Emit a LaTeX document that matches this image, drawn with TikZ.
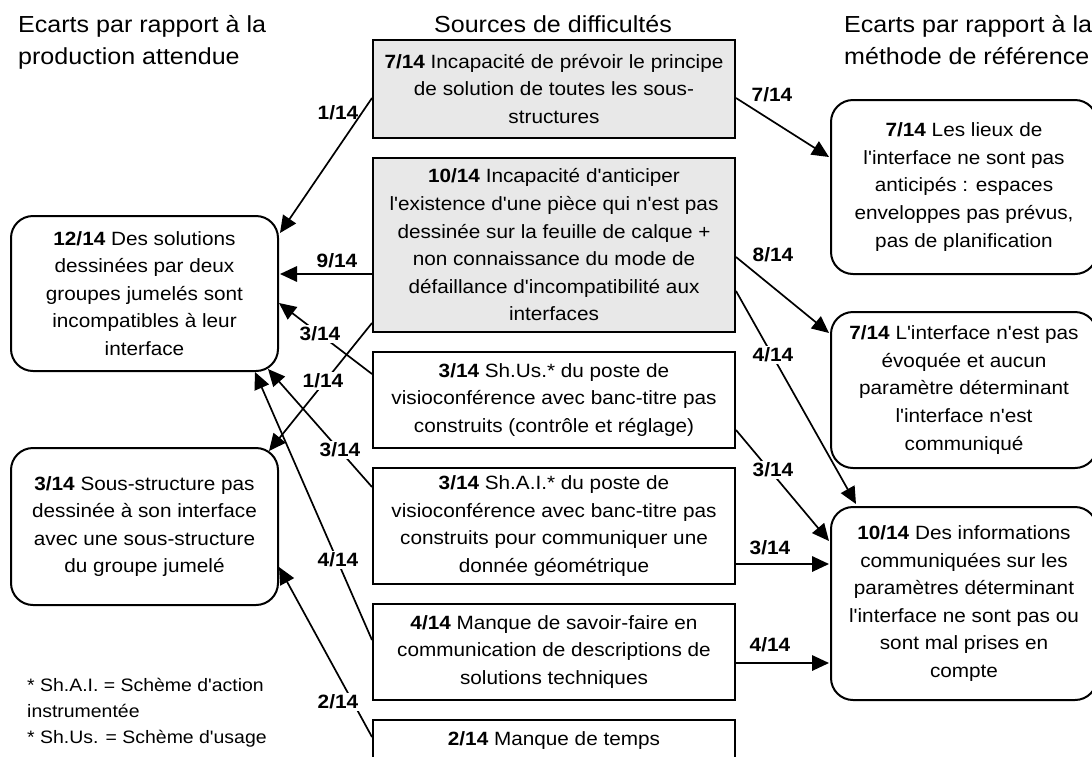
\documentclass[tikz,border=0pt]{standalone}
\usepackage{fontspec}
\setmainfont{Liberation Sans}[FakeStretch=1.08,Ligatures=TeXOff]
\usetikzlibrary{arrows.meta,calc}
\definecolor{boxgray}{HTML}{E8E8E8}
\tikzset{
  srcbox/.style={draw, line width=2pt, rectangle, align=center, inner sep=0pt,
    minimum width=362pt, font=\fontsize{19.2}{27.6}\selectfont},
  gbox/.style={srcbox, fill=boxgray},
  ecbox/.style={draw, line width=2pt, rectangle, rounded corners=22pt, align=center,
    inner sep=0pt, minimum width=267pt, font=\fontsize{19.2}{27.6}\selectfont},
  conn/.style={line width=1.7pt, -{Triangle[length=17pt,width=15.5pt]}},
  lab/.style={font=\bfseries\fontsize{19.3}{22}\selectfont, inner sep=1.5pt},
  labw/.style={lab, fill=white},
  ttl/.style={font=\fontsize{23.2}{32}\selectfont, align=left, inner sep=0pt},
  note/.style={font=\fontsize{18}{26}\selectfont, align=left, inner sep=0pt}
}
\begin{document}
\begin{tikzpicture}[x=1pt,y=-1pt]
\useasboundingbox (0,0) rectangle (1092,756);

% titles
\node[ttl, anchor=north west] (tl) at (18,15) {Ecarts par rapport à la\\production attendue};
\node[ttl, anchor=north] (tc) at (553,15) {Sources de difficultés};
\node[ttl, anchor=north west] (tr) at (844,15) {Ecarts par rapport à la\\méthode de référence};

% sources (centre column)
\node[gbox, minimum height=98pt] (b1) at (554,89)
  {\textbf{7/14} Incapacité de prévoir le principe\\de solution de toutes les sous-\\structures};
\node[gbox, minimum height=174pt] (b2) at (554,245)
  {\textbf{10/14} Incapacité d'anticiper\\l'existence d'une pièce qui n'est pas\\dessinée sur la feuille de calque +\\non connaissance du mode de\\défaillance d'incompatibilité aux\\interfaces};
\node[srcbox, minimum height=96pt] (b3) at (554,400)
  {\textbf{3/14} Sh.Us.* du poste de\\visioconférence avec banc-titre pas\\construits (contrôle et réglage)};
\node[srcbox, minimum height=116pt] (b4) at (554,526)
  {\textbf{3/14} Sh.A.I.* du poste de\\visioconférence avec banc-titre pas\\construits pour communiquer une\\donnée géométrique};
\node[srcbox, minimum height=96pt] (b5) at (554,652)
  {\textbf{4/14} Manque de savoir-faire en\\communication de descriptions de\\solutions techniques};
\node[srcbox, minimum height=42pt] (b6) at (554,741)
  {\textbf{2/14} Manque de temps};

% left column
\node[ecbox, minimum height=155pt] (l1) at (144.5,293.5)
  {\textbf{12/14} Des solutions\\dessinées par deux\\groupes jumelés sont\\incompatibles à leur\\interface};
\node[ecbox, minimum height=157pt] (l2) at (144.5,526.5)
  {\textbf{3/14} Sous-structure pas\\dessinée à son interface\\avec une sous-structure\\du groupe jumelé};

% right column
\node[ecbox, minimum width=266pt, minimum height=174pt] (r1) at (964,187)
  {\textbf{7/14} Les lieux de\\l'interface ne sont pas\\anticipés : espaces\\enveloppes pas prévus,\\pas de planification};
\node[ecbox, minimum width=266pt, minimum height=156pt] (r2) at (964,390)
  {\textbf{7/14} L'interface n'est pas\\évoquée et aucun\\paramètre déterminant\\l'interface n'est\\communiqué};
\node[ecbox, minimum width=266pt, minimum height=193pt] (r3) at (964,603.5)
  {\textbf{10/14} Des informations\\communiquées sur les\\paramètres déterminant\\l'interface ne sont pas ou\\sont mal prises en\\compte};

% footnote
\node[note, anchor=north west] (fn) at (27,678)
  {* Sh.A.I. = Schème d'action\\instrumentée\\* Sh.Us. = Schème d'usage};

% connectors to the left
\draw[conn] ($(b1.west)+(0,9)$) -- ($(l1.east)+(1,-60.5)$);
\draw[conn] ($(b2.west)+(0,29)$) -- ($(l1.east)+(1,-19.5)$);
\draw[conn] ($(b3.west)+(0,-26)$) -- ($(l1.east)+(0,9.5)$);
\draw[conn] ($(b2.west)+(0,78)$) -- ($(l2.north east)+(-10,4)$);
\draw[conn] ($(b4.west)+(0,-39)$) -- ($(l1.south east)+(-11,-3)$);
\draw[conn] ($(b5.west)+(0,-12)$) -- ($(l1.south east)+(-24,0)$);
\draw[conn] ($(b6.west)+(0,-4)$) -- ($(l2.east)+(0,40.5)$);

% connectors to the right
\draw[conn] ($(b1.east)+(0,9)$) -- ($(r1.west)+(-1,-30)$);
\draw[conn] ($(b2.east)+(0,12)$) -- ($(r2.west)+(-1,-57)$);
\draw[conn] ($(b2.east)+(0,46)$) -- ($(r3.north west)+(26,-2)$);
\draw[conn] ($(b3.east)+(0,30)$) -- ($(r3.west)+(-1,-62.5)$);
\draw[conn] ($(b4.east)+(0,38)$) -- ($(r3.west)+(-1,-39.5)$);
\draw[conn] ($(b5.east)+(0,11)$) -- ($(r3.west)+(-1,59.5)$);

% labels
\node[lab] (n1) at (338,113) {1/14};
\node[lab] (n2) at (337,261) {9/14};
\node[labw] (n3) at (320,334) {3/14};
\node[labw] (n4) at (323,381) {1/14};
\node[labw] (n5) at (340,450) {3/14};
\node[labw] (n6) at (338,560) {4/14};
\node[labw] (n7) at (338,702) {2/14};
\node[lab] (n8) at (772,95) {7/14};
\node[lab] (n9) at (773,255) {8/14};
\node[labw] (n10) at (773,355) {4/14};
\node[labw] (n11) at (773,470) {3/14};
\node[lab] (n12) at (770,548) {3/14};
\node[lab] (n13) at (770,645) {4/14};
\end{tikzpicture}
\end{document}
